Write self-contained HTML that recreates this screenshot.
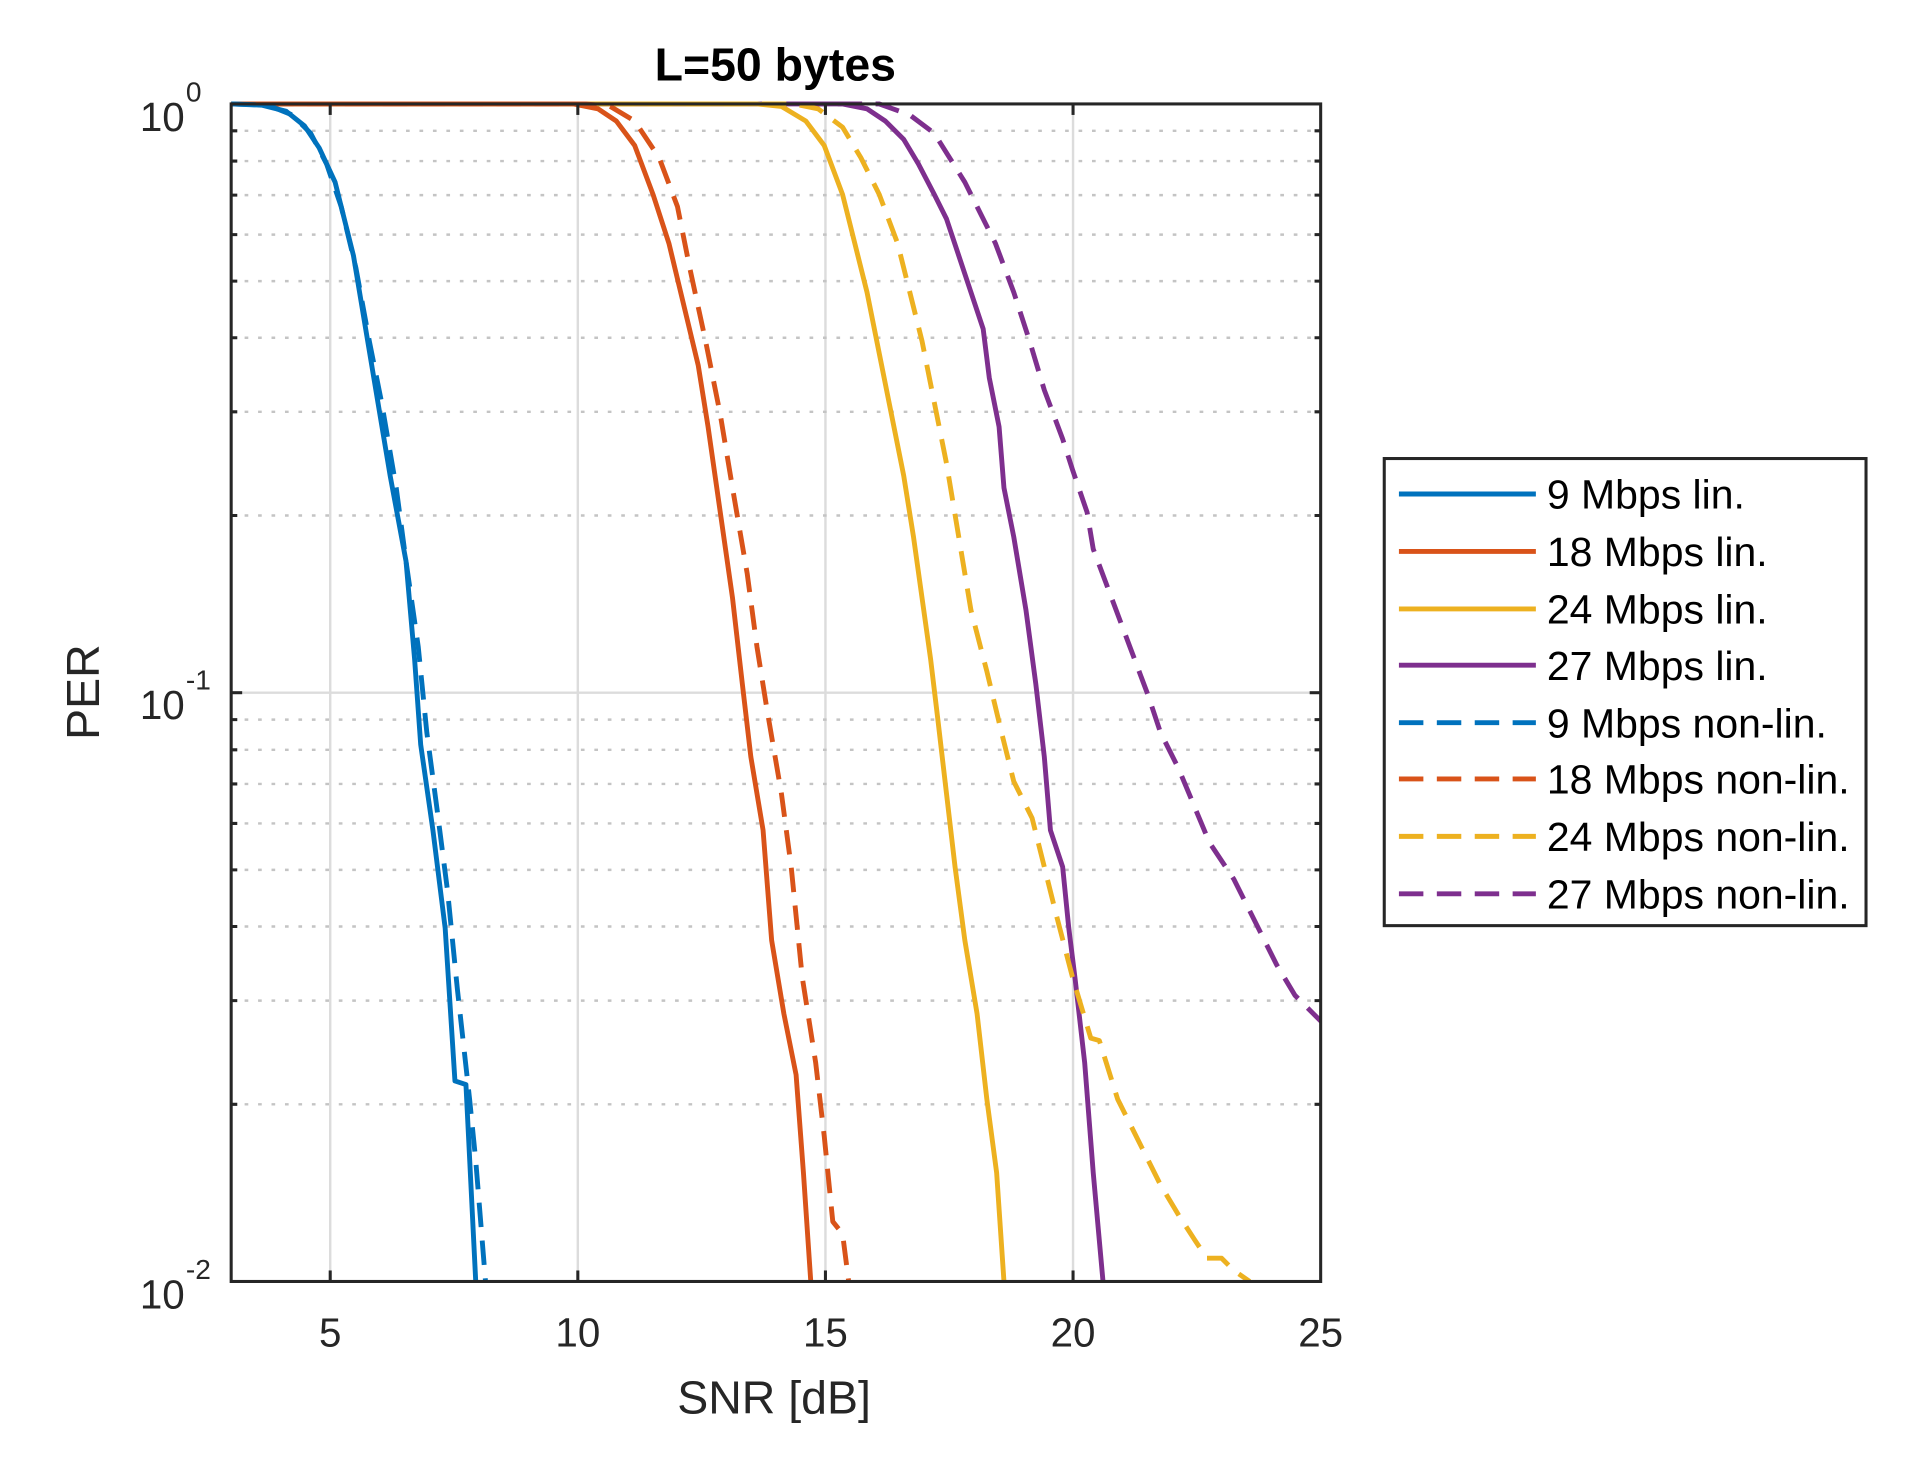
<!DOCTYPE html>
<html><head><meta charset="utf-8"><style>html,body{margin:0;padding:0;background:#fff}svg{display:block}</style></head>
<body>
<svg width="1915" height="1471" viewBox="1 1 1566 1203" xmlns="http://www.w3.org/2000/svg" font-family="Liberation Sans, Arial, sans-serif">
<rect x="0" y="0" width="1570" height="1210" fill="#fff"/>
<defs><clipPath id="c"><rect x="190" y="84" width="891" height="965"/></clipPath></defs>
<g stroke="#dcdcdc" stroke-width="2">
<line x1="271" y1="86" x2="271" y2="1049"/><line x1="473.5" y1="86" x2="473.5" y2="1049"/>
<line x1="676" y1="86" x2="676" y2="1049"/><line x1="878.5" y1="86" x2="878.5" y2="1049"/>
<line x1="190" y1="567.5" x2="1081" y2="567.5"/>
</g>
<g stroke="#c4c4c4" stroke-width="2" stroke-dasharray="3,8">
<line x1="190" y1="422.6" x2="1081" y2="422.6"/><line x1="190" y1="337.8" x2="1081" y2="337.8"/>
<line x1="190" y1="277.2" x2="1081" y2="277.2"/><line x1="190" y1="230.9" x2="1081" y2="230.9"/>
<line x1="190" y1="192.9" x2="1081" y2="192.9"/><line x1="190" y1="160.6" x2="1081" y2="160.6"/>
<line x1="190" y1="132.7" x2="1081" y2="132.7"/><line x1="190" y1="108" x2="1081" y2="108"/>
<line x1="190" y1="904.1" x2="1081" y2="904.1"/><line x1="190" y1="819.3" x2="1081" y2="819.3"/>
<line x1="190" y1="758.7" x2="1081" y2="758.7"/><line x1="190" y1="712.4" x2="1081" y2="712.4"/>
<line x1="190" y1="674.4" x2="1081" y2="674.4"/><line x1="190" y1="642.1" x2="1081" y2="642.1"/>
<line x1="190" y1="614.2" x2="1081" y2="614.2"/><line x1="190" y1="589.5" x2="1081" y2="589.5"/>
</g>
<g clip-path="url(#c)" fill="none" stroke-width="4" stroke-linejoin="round">
<polyline stroke="#7E2F8E" points="190,86 690,86 710,90 725,100 740,115 752,135 765,160 775,180 785,210 795,240 805,270 810,310 818,350 822,400 830,440 840,500 848,560 855,620 860,680 870,710 875,760 880,800 888,870 895,960 903,1049"/>
<polyline stroke="#7E2F8E" stroke-dasharray="20,11" points="190,86 720,86 745,95 765,110 790,150 800,170 815,200 830,240 843,280 855,320 870,360 878,385 890,420 895,450 910,490 925,530 940,570 950,600 965,630 990,690 1010,720 1030,760 1045,790 1060,815 1075,830 1085,840"/>
<polyline stroke="#EDB120" points="190,86 620,86 640,88 660,100 675,120 690,160 700,200 710,240 720,290 730,340 740,390 748,440 755,490 762,540 768,590 775,650 782,710 790,770 800,830 808,900 816,960 822,1049"/>
<polyline stroke="#EDB120" stroke-dasharray="20,11" points="190,86 650,86 670,90 690,105 705,130 720,160 735,200 745,240 755,280 765,330 775,380 785,440 795,500 808,550 820,600 830,640 845,670 855,710 865,750 878,800 893,850 900,852 915,900 935,940 950,970 965,995 978,1015 988,1030 1000,1030 1010,1040 1023,1049"/>
<polyline stroke="#D95319" points="190,86 470,86 490,90 505,100 520,120 535,160 548,200 560,250 572,300 580,350 590,420 600,490 608,560 615,620 625,680 632,770 642,830 652,880 658,960 664,1049"/>
<polyline stroke="#D95319" stroke-dasharray="20,11" points="190,86 480,86 500,88 520,100 540,130 555,170 565,220 578,280 590,340 600,400 612,470 620,530 628,580 640,650 648,710 657,800 668,870 675,930 682,1000 690,1010 695,1049"/>
<polyline stroke="#0072BD" points="190,86 215,87 235,92 250,104 262,122 275,150 290,210 300,270 310,330 320,390 333,460 340,540 345,610 355,680 365,760 373,885 382,888 390,1049"/>
<polyline stroke="#0072BD" stroke-dasharray="20,11" points="190,86 220,87 240,95 255,110 268,135 280,170 292,220 303,280 313,330 325,400 333,460 343,530 350,600 358,660 367,730 375,810 385,900 390,950 398,1049"/>
</g>
<rect x="190" y="86" width="891" height="963" fill="none" stroke="#262626" stroke-width="2.5"/>
<g stroke="#262626" stroke-width="2.5">
<line x1="271" y1="1049" x2="271" y2="1040"/><line x1="473.5" y1="1049" x2="473.5" y2="1040"/><line x1="676" y1="1049" x2="676" y2="1040"/><line x1="878.5" y1="1049" x2="878.5" y2="1040"/>
<line x1="271" y1="86" x2="271" y2="95"/><line x1="473.5" y1="86" x2="473.5" y2="95"/><line x1="676" y1="86" x2="676" y2="95"/><line x1="878.5" y1="86" x2="878.5" y2="95"/>
<line x1="190" y1="567.5" x2="199" y2="567.5"/><line x1="1081" y1="567.5" x2="1072" y2="567.5"/>
<path d="M190 422.6h5M190 337.8h5M190 277.2h5M190 230.9h5M190 192.9h5M190 160.6h5M190 132.7h5M190 108h5M190 904.1h5M190 819.3h5M190 758.7h5M190 712.4h5M190 674.4h5M190 642.1h5M190 614.2h5M190 589.5h5"/>
<path d="M1081 422.6h-5M1081 337.8h-5M1081 277.2h-5M1081 230.9h-5M1081 192.9h-5M1081 160.6h-5M1081 132.7h-5M1081 108h-5M1081 904.1h-5M1081 819.3h-5M1081 758.7h-5M1081 712.4h-5M1081 674.4h-5M1081 642.1h-5M1081 614.2h-5M1081 589.5h-5"/>
</g>
<g fill="#262626" font-size="33" text-anchor="middle">
<text x="271" y="1102">5</text><text x="473.5" y="1102">10</text><text x="676" y="1102">15</text><text x="878.5" y="1102">20</text><text x="1081" y="1102">25</text>
</g>
<g fill="#262626" font-size="33" text-anchor="end">
<text x="152" y="108">10</text><text x="152" y="589">10</text><text x="152" y="1071">10</text>
</g>
<g fill="#262626" font-size="23">
<text x="153" y="84">0</text><text x="153" y="565">-1</text><text x="153" y="1047">-2</text>
</g>
<text x="634" y="1157" font-size="38" fill="#262626" text-anchor="middle">SNR [dB]</text>
<text transform="translate(82,567) rotate(-90)" font-size="38" fill="#262626" text-anchor="middle">PER</text>
<text x="635" y="67" font-size="38" font-weight="bold" fill="#000" text-anchor="middle">L=50 bytes</text>
<rect x="1133" y="376" width="394" height="382" fill="#fff" stroke="#262626" stroke-width="2.5"/>
<g stroke-width="4">
<line x1="1145" y1="405" x2="1257" y2="405" stroke="#0072BD"/>
<line x1="1145" y1="452" x2="1257" y2="452" stroke="#D95319"/>
<line x1="1145" y1="499" x2="1257" y2="499" stroke="#EDB120"/>
<line x1="1145" y1="545" x2="1257" y2="545" stroke="#7E2F8E"/>
<line x1="1145" y1="592" x2="1257" y2="592" stroke="#0072BD" stroke-dasharray="20,11"/>
<line x1="1145" y1="638" x2="1257" y2="638" stroke="#D95319" stroke-dasharray="20,11"/>
<line x1="1145" y1="685" x2="1257" y2="685" stroke="#EDB120" stroke-dasharray="20,11"/>
<line x1="1145" y1="732" x2="1257" y2="732" stroke="#7E2F8E" stroke-dasharray="20,11"/>
</g>
<g font-size="33.5" fill="#000">
<text x="1266" y="417">9 Mbps lin.</text>
<text x="1266" y="464">18 Mbps lin.</text>
<text x="1266" y="511">24 Mbps lin.</text>
<text x="1266" y="557">27 Mbps lin.</text>
<text x="1266" y="604">9 Mbps non-lin.</text>
<text x="1266" y="650">18 Mbps non-lin.</text>
<text x="1266" y="697">24 Mbps non-lin.</text>
<text x="1266" y="744">27 Mbps non-lin.</text>
</g>
</svg>
</body></html>
